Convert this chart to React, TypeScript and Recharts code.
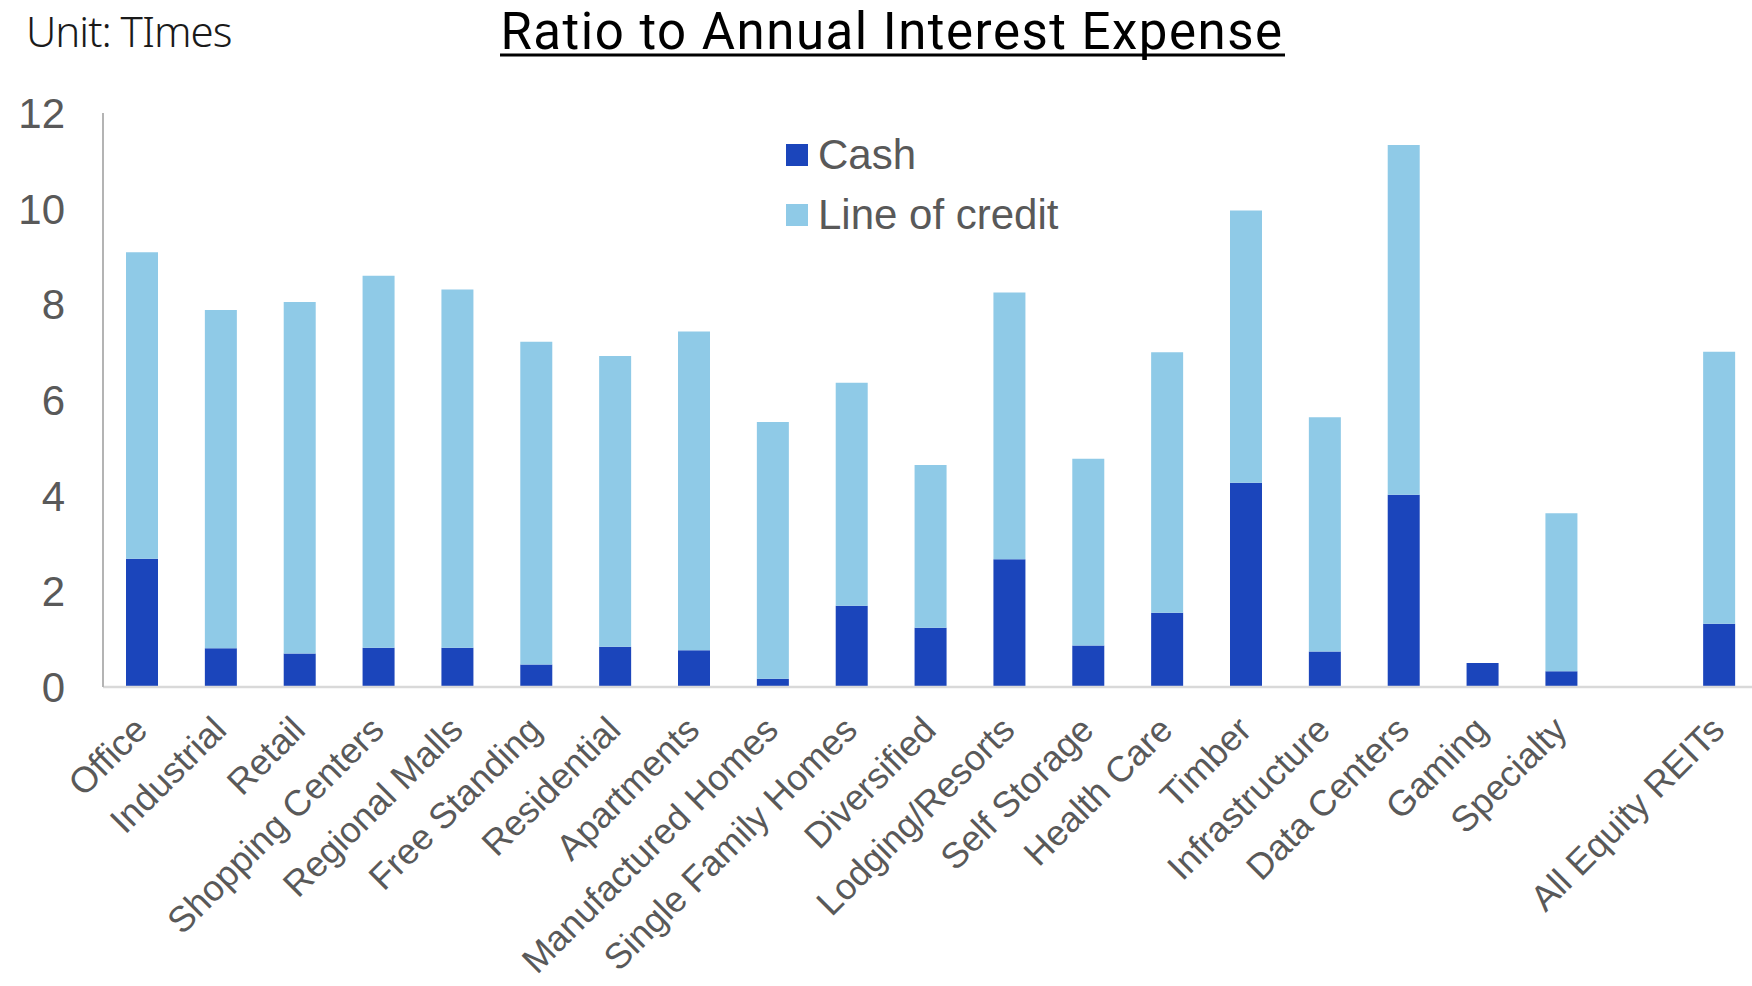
import React from 'react';
import { BarChart, Bar, XAxis, YAxis, Legend } from 'recharts';

// Coverage of annual interest expense by REIT sector, in times
const categories = [
  'Office',
  'Industrial',
  'Retail',
  'Shopping Centers',
  'Regional Malls',
  'Free Standing',
  'Residential',
  'Apartments',
  'Manufactured Homes',
  'Single Family Homes',
  'Diversified',
  'Lodging/Resorts',
  'Self Storage',
  'Health Care',
  'Timber',
  'Infrastructure',
  'Data Centers',
  'Gaming',
  'Specialty',
  '',
  'All Equity REITs',
];

const cashValues = [
  2.68, 0.81, 0.7, 0.82, 0.82, 0.47, 0.84, 0.77, 0.17, 1.7, 1.24,
  2.67, 0.87, 1.55, 4.27, 0.74, 4.02, 0.5, 0.33, null, 1.32,
];

const creditValues = [
  6.41, 7.07, 7.35, 7.78, 7.49, 6.75, 6.08, 6.66, 5.37, 4.66, 3.4,
  5.58, 3.9, 5.45, 5.69, 4.9, 7.31, 0, 3.3, null, 5.69,
];

const yTicks = [0, 2, 4, 6, 8, 10, 12];

const seriesNames = { cash: 'Cash', credit: 'Line of credit' };
const CASH_COLOR = '#1B45BB';
const CREDIT_COLOR = '#8FCAE7';
const TEXT_GREY = '#595959';
const SANS = '"Liberation Sans", Arial, sans-serif';

const data = categories.map((name, i) => ({
  name,
  cash: cashValues[i],
  credit: creditValues[i],
}));

const CategoryTick = (props: any) => {
  const { x, y, payload } = props;
  return (
    <text
      transform={`translate(${x + 7},${y + 45}) rotate(-45)`}
      textAnchor="end"
      fontFamily={SANS}
      fontSize={36}
      fill={TEXT_GREY}
    >
      {payload.value}
    </text>
  );
};

const LegendBox = () => {
  const items = [
    { label: seriesNames.cash, color: CASH_COLOR },
    { label: seriesNames.credit, color: CREDIT_COLOR },
  ];
  return (
    <div>
      {items.map((it) => (
        <div
          key={it.label}
          style={{ display: 'flex', alignItems: 'center', height: 60 }}
        >
          <div style={{ width: 22, height: 22, background: it.color, marginRight: 10 }} />
          <span
            style={{
              fontFamily: SANS,
              fontSize: 42,
              color: TEXT_GREY,
              lineHeight: '60px',
              whiteSpace: 'nowrap',
            }}
          >
            {it.label}
          </span>
        </div>
      ))}
    </div>
  );
};

export default function App() {
  return (
    <div
      style={{
        position: 'absolute',
        left: 0,
        top: 0,
        width: 1752,
        height: 986,
        overflow: 'hidden',
        background: '#fff',
      }}
    >
      <BarChart
        width={1800}
        height={986}
        data={data}
        margin={{ top: 113, right: 41, bottom: 0, left: 0 }}
      >
        <XAxis
          dataKey="name"
          interval={0}
          height={299}
          tickLine={false}
          tickSize={0}
          tickMargin={0}
          axisLine={{ stroke: '#D9D9D9', strokeWidth: 2.5 }}
          tick={<CategoryTick />}
        />
        <YAxis
          domain={[0, 12]}
          ticks={yTicks}
          width={103}
          tickLine={false}
          tickSize={0}
          tickMargin={38}
          axisLine={{ stroke: '#B4B4B4', strokeWidth: 2 }}
          tick={{ fontFamily: SANS, fontSize: 42, fill: TEXT_GREY }}
        />
        <Legend
          layout="vertical"
          align="center"
          verticalAlign="middle"
          content={<LegendBox />}
          wrapperStyle={{ position: 'absolute', top: 125, left: 786, width: 'auto' }}
        />
        <Bar
          dataKey="cash"
          name={seriesNames.cash}
          stackId="ratio"
          fill={CASH_COLOR}
          barSize={32}
          isAnimationActive={false}
        />
        <Bar
          dataKey="credit"
          name={seriesNames.credit}
          stackId="ratio"
          fill={CREDIT_COLOR}
          barSize={32}
          isAnimationActive={false}
        />
      </BarChart>
      <svg
        width={1752}
        height={100}
        style={{ position: 'absolute', left: 0, top: 0, pointerEvents: 'none' }}
      >
        <text
          x={26}
          y={47}
          fontFamily='"Noto Sans", sans-serif'
          fontWeight={300}
          fontSize={42}
          letterSpacing={-1}
          fill="#1a1a1a"
        >
          Unit: TImes
        </text>
        <text
          x={892}
          y={49}
          textAnchor="middle"
          fontFamily="Roboto, sans-serif"
          fontSize={51}
          letterSpacing={1.5}
          fill="#000"
        >
          Ratio to Annual Interest Expense
        </text>
        <line x1={500} x2={1285} y1={55} y2={55} stroke="#000" strokeWidth={3} />
      </svg>
    </div>
  );
}
